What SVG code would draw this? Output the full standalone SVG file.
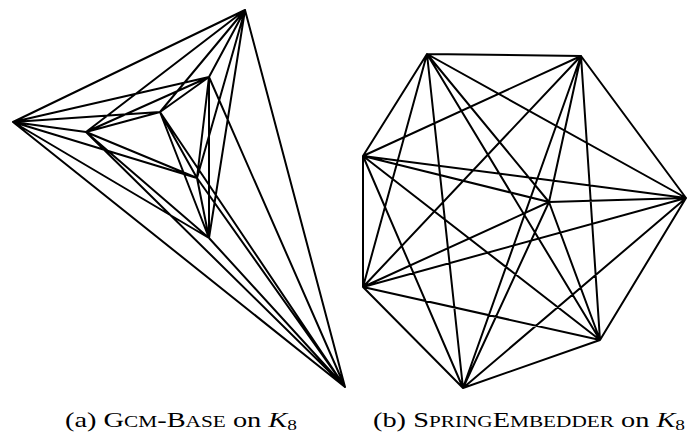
<svg xmlns="http://www.w3.org/2000/svg" width="688" height="435" viewBox="0 0 688 435">
<style>
.e{stroke:#000;stroke-width:2;stroke-linecap:round;fill:none}
.cap{font-family:"Liberation Serif","DejaVu Serif",serif;font-size:22px;fill:#000}
.sc{font-size:16.5px}
.sub{font-size:15px}
</style>
<rect width="688" height="435" fill="#fff"/>
<g id="connectors-a" class="e">
<path d="M245,10L13,122M245,10L345,387M245,10L209,77M245,10L160,112M245,10L86,132M245,10L197,178M245,10L209,238
M13,122L345,387M13,122L209,77M13,122L160,112M13,122L86,132M13,122L197,178M13,122L209,238
M345,387L209,77M345,387L160,112M345,387L86,132M345,387L197,178M345,387L209,238
M209,77L160,112M209,77L86,132M209,77L197,178M209,77L209,238
M160,112L86,132M160,112L197,178M160,112L209,238
M86,132L197,178M86,132L209,238
M197,178L209,238"/>
</g>
<g id="connectors-b" class="e">
<path d="M427,54L581,56M427,54L363,156M427,54L686,198M427,54L549,202M427,54L363,287M427,54L600,340M427,54L463,388
M581,56L363,156M581,56L686,198M581,56L549,202M581,56L363,287M581,56L600,340M581,56L463,388
M363,156L686,198M363,156L549,202M363,156L363,287M363,156L600,340M363,156L463,388
M686,198L549,202M686,198L363,287M686,198L600,340M686,198L463,388
M549,202L363,287M549,202L600,340M549,202L463,388
M363,287L600,340M363,287L463,388
M600,340L463,388"/>
</g>
<g id="nodes-a">
<g id="a1"><circle cx="245" cy="10" r="0.1"/></g>
<g id="a2"><circle cx="13" cy="122" r="0.1"/></g>
<g id="a3"><circle cx="345" cy="387" r="0.1"/></g>
<g id="a4"><circle cx="209" cy="77" r="0.1"/></g>
<g id="a5"><circle cx="160" cy="112" r="0.1"/></g>
<g id="a6"><circle cx="86" cy="132" r="0.1"/></g>
<g id="a7"><circle cx="197" cy="178" r="0.1"/></g>
<g id="a8"><circle cx="209" cy="238" r="0.1"/></g>
</g>
<g id="nodes-b">
<g id="b1"><circle cx="427" cy="54" r="0.1"/></g>
<g id="b2"><circle cx="581" cy="56" r="0.1"/></g>
<g id="b3"><circle cx="363" cy="156" r="0.1"/></g>
<g id="b4"><circle cx="686" cy="198" r="0.1"/></g>
<g id="b5"><circle cx="549" cy="202" r="0.1"/></g>
<g id="b6"><circle cx="363" cy="287" r="0.1"/></g>
<g id="b7"><circle cx="600" cy="340" r="0.1"/></g>
<g id="b8"><circle cx="463" cy="388" r="0.1"/></g>
</g>
<g id="caption-a">
<text class="cap" x="65" y="427" textLength="232" lengthAdjust="spacingAndGlyphs">(a) G<tspan class="sc">CM</tspan>-B<tspan class="sc">ASE</tspan> on <tspan font-style="italic">K</tspan><tspan class="sub" dy="3">8</tspan></text>
</g>
<g id="caption-b">
<text class="cap" x="373" y="427" textLength="312" lengthAdjust="spacingAndGlyphs">(b) S<tspan class="sc">PRING</tspan>E<tspan class="sc">MBEDDER</tspan> on <tspan font-style="italic">K</tspan><tspan class="sub" dy="3">8</tspan></text>
</g>
</svg>
